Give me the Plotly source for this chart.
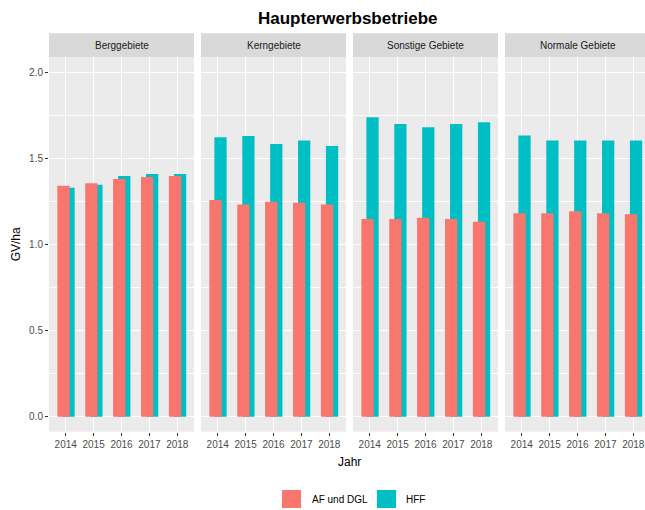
import plotly.graph_objects as go

# ---------------- data ----------------
years = [2014, 2015, 2016, 2017, 2018]
year_labels = ["2014", "2015", "2016", "2017", "2018"]
regions = ["Berggebiete", "Kerngebiete", "Sonstige Gebiete", "Normale Gebiete"]

af_berg = [1.343, 1.357, 1.382, 1.394, 1.399]
hff_berg = [1.331, 1.349, 1.399, 1.411, 1.411]
af_kern = [1.260, 1.233, 1.250, 1.244, 1.233]
hff_kern = [1.624, 1.632, 1.585, 1.605, 1.574]
af_sonst = [1.149, 1.149, 1.157, 1.149, 1.134]
hff_sonst = [1.741, 1.702, 1.683, 1.702, 1.712]
af_norm = [1.183, 1.183, 1.194, 1.183, 1.177]
hff_norm = [1.634, 1.605, 1.605, 1.605, 1.605]

series_names = ["AF und DGL", "HFF"]
y_ticks = [0.0, 0.5, 1.0, 1.5, 2.0]

af_all = [af_berg, af_kern, af_sonst, af_norm]
hff_all = [hff_berg, hff_kern, hff_sonst, hff_norm]

# ---------------- style / layout ----------------
W, H = 645, 510
RED, TEAL = "#F8766D", "#00BFC4"
FONT = "Liberation Sans, Arial, sans-serif"
panels_px = [(49, 194), (201, 346), (353, 498), (505, 650)]
panel_top, panel_bot = 57.0, 431.7
strip_top = 33.3
x_lo, x_hi = 2013.4, 2018.6
y_range = [-0.087, 2.091]


def px(x):
    return x / W


def py(y):
    return 1 - y / H


fig = go.Figure()
layout = dict(
    width=W, height=H,
    margin=dict(l=0, r=0, t=0, b=0, autoexpand=False),
    paper_bgcolor="white", plot_bgcolor="#EBEBEB",
    barmode="overlay", showlegend=False,
    font=dict(family=FONT, color="#4D4D4D", size=10),
)

shapes = []
annotations = []

for i, (reg, af, hff) in enumerate(zip(regions, af_all, hff_all)):
    n = "" if i == 0 else str(i + 1)
    xa, ya = "x" + n, "y" + n
    x0p, x1p = panels_px[i]
    full = x1p - x0p
    vis1 = min(x1p, W)
    rng_hi = x_lo + (x_hi - x_lo) * (vis1 - x0p) / full

    fig.add_trace(go.Bar(x=years, y=hff, name=series_names[1], marker_color=TEAL,
                         marker_line_width=0, width=0.44, offset=-0.12,
                         xaxis=xa, yaxis=ya))
    fig.add_trace(go.Bar(x=years, y=af, name=series_names[0], marker_color=RED,
                         marker_line_width=0, width=0.44, offset=-0.30,
                         xaxis=xa, yaxis=ya))

    layout["xaxis" + n] = dict(
        domain=[px(x0p), px(vis1)], range=[x_lo, rng_hi], anchor=ya,
        tickmode="array", tickvals=years, ticktext=year_labels,
        showgrid=True, gridcolor="white", gridwidth=1.3,
        zeroline=False, showline=False,
        ticks="outside", ticklen=3, tickcolor="#333333", tickwidth=1,
        tickfont=dict(family=FONT, size=10, color="#4D4D4D"),
        automargin=False, fixedrange=True,
    )
    layout["yaxis" + n] = dict(
        domain=[py(panel_bot), py(panel_top)], range=y_range, anchor=xa,
        tickmode="array", tickvals=y_ticks, tickformat=".1f",
        showticklabels=(i == 0), ticks="outside" if i == 0 else "",
        ticklen=3, tickcolor="#333333", tickwidth=1,
        showgrid=True, gridcolor="white", gridwidth=1.3,
        minor=dict(tickvals=[0.25, 0.75, 1.25, 1.75], showgrid=True,
                   gridcolor="white", gridwidth=0.6, ticks=""),
        zeroline=False, showline=False,
        tickfont=dict(family=FONT, size=10, color="#4D4D4D"),
        automargin=False, fixedrange=True,
    )

    # facet strip
    shapes.append(dict(type="rect", xref="paper", yref="paper",
                       x0=px(x0p), x1=px(vis1), y0=py(panel_top), y1=py(strip_top),
                       fillcolor="#D9D9D9", line_width=0, layer="below"))
    annotations.append(dict(text=reg, xref="paper", yref="paper",
                            x=px((x0p + x1p) / 2), y=py((strip_top + panel_top) / 2),
                            xanchor="center", yanchor="middle", showarrow=False,
                            font=dict(family=FONT, size=10, color="#1A1A1A")))

# title and axis titles
annotations.append(dict(text="<b>Haupterwerbsbetriebe</b>", xref="paper", yref="paper",
                        x=px(348), y=py(19), xanchor="center", yanchor="middle",
                        showarrow=False, font=dict(family=FONT, size=17, color="black")))
annotations.append(dict(text="GV/ha", xref="paper", yref="paper",
                        x=px(16), y=py((panel_top + panel_bot) / 2), textangle=-90,
                        xanchor="center", yanchor="middle", showarrow=False,
                        font=dict(family=FONT, size=12, color="black")))
annotations.append(dict(text="Jahr", xref="paper", yref="paper",
                        x=px(349.5), y=py(462), xanchor="center", yanchor="middle",
                        showarrow=False, font=dict(family=FONT, size=12, color="black")))

# legend (manual, ggplot-style keys)
legend_items = [(series_names[0], RED, 282, 310), (series_names[1], TEAL, 377, 404)]
for name, col, kx, tx in legend_items:
    shapes.append(dict(type="rect", xref="paper", yref="paper",
                       x0=px(kx), x1=px(kx + 19), y0=py(508), y1=py(490),
                       fillcolor=col, line_width=0))
    annotations.append(dict(text=name, xref="paper", yref="paper",
                            x=px(tx), y=py(499), xanchor="left", yanchor="middle",
                            showarrow=False, font=dict(family=FONT, size=10, color="black")))

layout["shapes"] = shapes
layout["annotations"] = annotations
fig.update_layout(**layout)

fig.write_html("out.html", config={"displayModeBar": False},
               post_script="document.body.style.margin='0';document.body.style.overflow='hidden';")
